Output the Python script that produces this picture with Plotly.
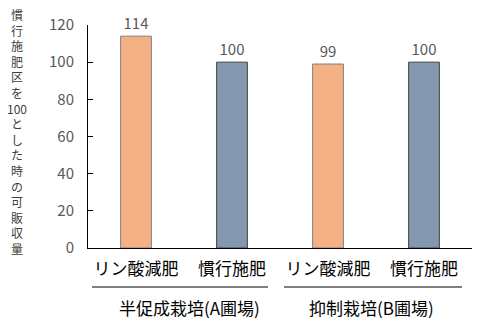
import plotly.graph_objects as go

categories = ["リン酸減肥", "慣行施肥", "リン酸減肥 ", "慣行施肥 "]
tick_text = ["リン酸減肥", "慣行施肥", "リン酸減肥", "慣行施肥"]
values = [114, 100, 99, 100]
groups = ["半促成栽培(A圃場)", "抑制栽培(B圃場)"]
y_title_parts = ["慣", "行", "施", "肥", "区", "を", "100", "と", "し", "た", "時", "の", "可", "販", "収", "量"]
y_ticks = [0, 20, 40, 60, 80, 100, 120]

FONT = "Noto Sans CJK JP"
W, H = 480, 324
ML, MR, MT, MB = 88, 8, 25, 76
PW, PH = W - ML - MR, H - MT - MB

bar_colors = ["#F4B183", "#8497B0", "#F4B183", "#8497B0"]
line_colors = ["#7F7F7F", "#404040", "#7F7F7F", "#404040"]

fig = go.Figure()
fig.add_trace(go.Bar(
    x=categories, y=values, width=0.32,
    marker=dict(color=bar_colors, line=dict(color=line_colors, width=1)),
    text=[str(v) for v in values], textposition="outside",
    textfont=dict(family=FONT, size=15, color="#595959"),
    cliponaxis=False,
))

annotations = []
# vertical y-axis title, upright characters stacked in one text
annotations.append(dict(
    text="<br>".join(y_title_parts), xref="paper", yref="paper",
    x=(17 - ML) / PW, y=1 - ((17 + 246) / 2 - MT) / PH,
    xanchor="center", yanchor="middle", showarrow=False,
    font=dict(family=FONT, size=12, color="#404040"),
))

# group labels and underlines
group_centers = [189, 371]
line_spans = [(92, 268), (284, 462)]
shapes = []
for g, cx, (x0, x1) in zip(groups, group_centers, line_spans):
    annotations.append(dict(
        text=g, xref="paper", yref="paper",
        x=(cx - ML) / PW, y=1 - (307 - MT) / PH,
        xanchor="center", yanchor="middle", showarrow=False,
        font=dict(family=FONT, size=17, color="#000000"),
    ))
    shapes.append(dict(
        type="line", xref="paper", yref="paper",
        x0=(x0 - ML) / PW, x1=(x1 - ML) / PW,
        y0=1 - (287 - MT) / PH, y1=1 - (287 - MT) / PH,
        line=dict(color="#000000", width=1),
    ))

fig.update_layout(
    width=W, height=H,
    margin=dict(l=ML, r=MR, t=MT, b=MB, pad=0),
    paper_bgcolor="white", plot_bgcolor="white",
    showlegend=False,
    annotations=annotations, shapes=shapes,
    xaxis=dict(
        tickmode="array", tickvals=categories, ticktext=tick_text,
        tickfont=dict(family=FONT, size=17, color="#000000"),
        showline=True, linecolor="#000000", linewidth=1,
        showgrid=False, ticks="", ticklabelstandoff=6,
        range=[-0.5, 3.5],
    ),
    yaxis=dict(
        range=[0, 120], tickvals=y_ticks,
        tickfont=dict(family=FONT, size=15, color="#595959"),
        showline=True, linecolor="#000000", linewidth=1,
        showgrid=False, ticks="inside", ticklen=5, tickcolor="#000000",
        ticklabelstandoff=10, zeroline=False,
    ),
)

fig.write_html("out.html")
